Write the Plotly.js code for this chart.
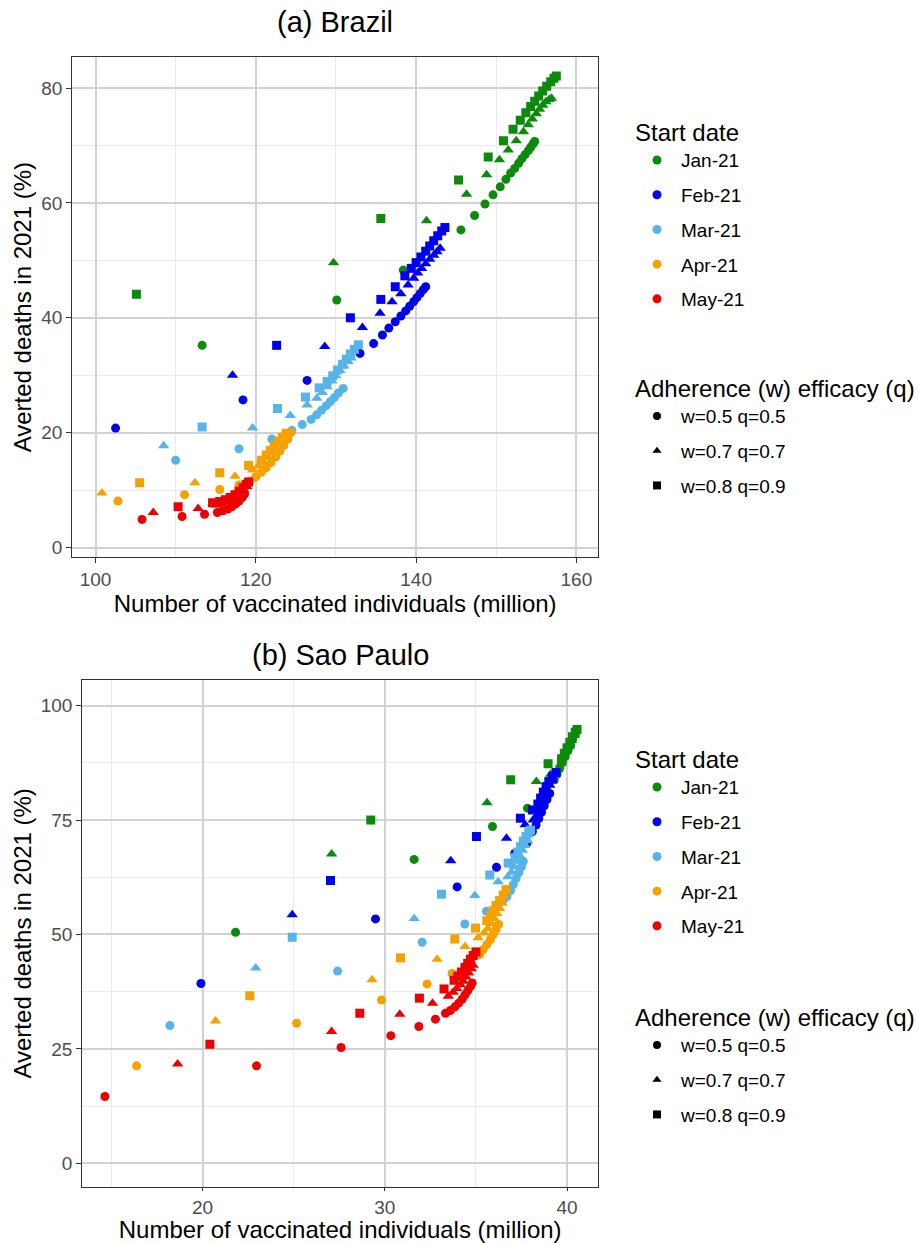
<!DOCTYPE html>
<html>
<head>
<meta charset="utf-8">
<script src="https://cdn.plot.ly/plotly-3.0.1.min.js"></script>
<style>html,body{margin:0;padding:0;background:#fff;}#chart{width:919px;height:1243px;}</style>
</head>
<body>
<div id="chart"></div>
<script>
// ---------- categories ----------
const startDates = ['Jan-21', 'Feb-21', 'Mar-21', 'Apr-21', 'May-21'];
const adherenceLabels = ['w=0.5 q=0.5', 'w=0.7 q=0.7', 'w=0.8 q=0.9'];
const panelTitles = ['(a) Brazil', '(b) Sao Paulo'];
const xTitle = 'Number of vaccinated individuals (million)';
const yTitle = 'Averted deaths in 2021 (%)';

// ---------- (a) Brazil : x = vaccinated (million), y = averted deaths (%) ----------
const br_jan_w5_x = [113.3,130.1,138.4,145.6,147.3,148.6,149.6,150.5,151.2,151.8,152.3,152.8,153.2,153.6,154.0,154.3,154.6,154.8];
const br_jan_w5_y = [35.2,43.1,48.3,55.3,57.8,59.8,61.4,62.8,64.1,65.2,66.0,66.9,67.7,68.4,69.1,69.7,70.3,70.7];
const br_jan_w7_x = [129.7,141.3,146.3,148.8,150.4,151.5,152.5,153.4,154.0,154.5,155.0,155.4,155.8,156.2,156.6,156.9];
const br_jan_w7_y = [49.6,56.9,61.5,64.9,67.5,69.2,70.8,72.4,73.6,74.6,75.5,76.3,77.0,77.6,78.0,78.2];
const br_jan_w8_x = [105.1,135.6,145.3,149.0,150.9,152.1,153.0,153.7,154.3,154.8,155.3,155.8,156.3,156.8,157.2,157.5];
const br_jan_w8_y = [44.1,57.3,64.0,68.0,70.8,72.8,74.4,75.7,76.8,77.7,78.6,79.5,80.3,81.1,81.7,82.1];

const br_feb_w5_x = [102.5,118.4,126.4,133.0,134.7,135.8,136.6,137.4,138.1,138.7,139.2,139.7,140.1,140.5,140.9,141.2];
const br_feb_w5_y = [20.8,25.7,29.1,33.8,35.5,37.0,38.2,39.3,40.3,41.2,42.0,42.8,43.5,44.2,44.9,45.4];
const br_feb_w7_x = [117.1,128.6,133.3,135.5,137.0,138.1,139.0,139.7,140.2,140.7,141.2,141.7,142.2,142.6,143.0];
const br_feb_w7_y = [30.0,35.0,38.3,40.8,42.8,44.2,45.7,46.9,47.8,48.6,49.4,50.2,50.9,51.5,52.1];
const br_feb_w8_x = [122.6,131.8,135.6,137.4,138.6,139.4,140.0,140.6,141.2,141.7,142.2,142.7,143.2,143.6];
const br_feb_w8_y = [35.2,40.0,43.2,45.4,47.3,48.6,49.6,50.6,51.6,52.5,53.4,54.3,55.1,55.7];

const br_mar_w5_x = [110.0,117.9,122.0,124.5,125.8,126.9,127.6,128.2,128.8,129.3,129.8,130.3,130.9];
const br_mar_w5_y = [15.2,17.2,18.9,20.4,21.4,22.3,23.1,23.9,24.7,25.4,26.1,26.9,27.7];
const br_mar_w7_x = [108.5,119.6,124.3,126.4,127.6,128.3,128.9,129.5,130.0,130.5,131.0,131.5,131.9];
const br_mar_w7_y = [17.7,20.8,23.0,24.8,26.0,27.0,28.0,29.0,29.9,30.8,31.6,32.4,33.0];
const br_mar_w8_x = [113.3,122.7,126.2,127.9,128.9,129.6,130.2,130.8,131.3,131.8,132.3,132.8];
const br_mar_w8_y = [21.0,24.2,26.2,27.8,28.9,29.9,30.9,31.9,32.8,33.7,34.5,35.3];

const br_apr_w5_x = [102.8,111.1,115.5,117.9,119.3,120.0,120.7,121.3,121.9,122.5,123.0,123.5,124.0,124.4];
const br_apr_w5_y = [8.1,9.2,10.1,10.9,11.6,12.3,13.1,13.9,14.8,15.8,16.8,17.8,18.9,20.0];
const br_apr_w7_x = [100.8,112.4,117.4,119.6,120.3,120.9,121.5,122.0,122.5,123.0,123.5];
const br_apr_w7_y = [9.5,11.3,12.4,13.5,14.2,14.9,15.7,16.5,17.3,18.2,19.1];
const br_apr_w8_x = [105.5,115.5,119.1,120.7,121.3,121.8,122.3,122.8,123.3,123.8];
const br_apr_w8_y = [11.3,13.0,14.3,15.2,16.1,16.9,17.7,18.5,19.2,19.9];

const br_may_w5_x = [105.8,110.8,113.6,115.2,115.9,116.5,117.0,117.5,117.9,118.3,118.6];
const br_may_w5_y = [4.9,5.4,5.8,6.1,6.4,6.7,7.1,7.6,8.1,8.7,9.3];
const br_may_w7_x = [107.2,112.8,115.1,115.8,116.4,117.0,117.5,118.0,118.5,118.9];
const br_may_w7_y = [6.1,6.8,7.4,7.6,7.9,8.3,8.8,9.4,10.0,10.6];
const br_may_w8_x = [110.3,114.6,115.5,116.2,116.8,117.4,117.9,118.4,118.8,119.1];
const br_may_w8_y = [7.1,7.8,8.0,8.3,8.7,9.2,9.8,10.4,11.0,11.4];

// ---------- (b) Sao Paulo ----------
const sp_jan_w5_x = [21.81,31.61,35.91,37.83,38.7,39.3,39.45,39.6,39.75,39.9,40.05,40.2];
const sp_jan_w5_y = [50.5,66.4,73.6,77.6,80.8,83.8,85.0,86.3,87.6,88.9,90.2,91.3];
const sp_jan_w7_x = [27.08,35.61,38.32,39.1,39.5,39.65,39.8,39.95,40.1,40.25,40.4];
const sp_jan_w7_y = [67.6,78.8,83.4,85.0,86.0,87.3,88.6,89.9,91.2,92.4,93.4];
const sp_jan_w8_x = [29.23,36.91,38.96,39.7,39.85,40.0,40.15,40.3,40.45,40.55];
const sp_jan_w8_y = [75.0,83.8,87.3,88.4,89.6,90.8,92.0,93.2,94.2,94.8];

const sp_feb_w5_x = [19.91,29.49,33.97,36.13,37.13,37.8,38.1,38.3,38.45,38.6,38.75,38.9,39.05];
const sp_feb_w5_y = [39.3,53.4,60.4,64.7,67.7,70.0,72.5,73.9,75.3,76.7,78.1,79.5,80.8];
const sp_feb_w7_x = [24.92,33.62,36.68,37.7,38.15,38.3,38.45,38.6,38.75,38.9,39.05,39.2];
const sp_feb_w7_y = [54.3,66.1,71.0,74.0,75.0,75.8,77.2,78.6,80.0,81.4,82.6,83.6];
const sp_feb_w8_x = [27.02,35.03,37.44,38.1,38.4,38.55,38.7,38.85,39.0,39.2,39.4];
const sp_feb_w8_y = [61.8,71.4,75.4,77.2,78.5,79.8,81.1,82.3,83.4,84.5,85.4];

const sp_mar_w5_x = [18.21,27.41,32.05,34.39,35.58,36.2,36.5,36.7,36.9,37.05,37.2,37.35,37.5,37.6];
const sp_mar_w5_y = [30.1,42.0,48.3,52.3,55.1,56.7,57.5,58.3,59.6,60.9,62.2,63.5,64.8,66.0];
const sp_mar_w7_x = [22.92,31.61,34.94,36.22,36.75,36.95,37.1,37.25,37.4,37.55,37.7,37.85];
const sp_mar_w7_y = [42.7,53.5,58.5,61.5,62.6,63.6,64.8,66.0,67.2,68.4,69.5,70.5];
const sp_mar_w8_x = [24.92,33.11,35.76,36.77,37.15,37.3,37.45,37.6,37.75,37.9,38.0];
const sp_mar_w8_y = [49.4,58.8,63.0,65.6,66.8,68.0,69.2,70.4,71.4,72.2,72.8];

const sp_apr_w5_x = [16.38,25.16,29.82,32.32,33.69,34.55,35.2,35.4,35.6,35.8,35.95,36.1,36.25];
const sp_apr_w5_y = [21.3,30.6,35.7,39.2,41.5,43.6,45.6,46.7,47.8,48.9,50.0,51.1,52.2];
const sp_apr_w7_x = [20.71,29.30,32.87,34.40,35.12,35.45,35.65,35.85,36.0,36.15,36.3,36.45];
const sp_apr_w7_y = [31.1,40.1,44.6,47.4,49.3,50.3,51.3,52.4,53.5,54.6,55.7,56.8];
const sp_apr_w8_x = [22.59,30.86,33.84,34.98,35.6,35.8,35.95,36.1,36.3,36.5,36.65];
const sp_apr_w8_y = [36.6,44.9,49.0,51.4,53.0,54.1,55.2,56.3,57.4,58.6,59.8];

const sp_may_w5_x = [14.64,22.96,27.6,30.33,31.87,32.78,33.33,33.6,33.85,34.05,34.25,34.4,34.55,34.7,34.8];
const sp_may_w5_y = [14.6,21.3,25.3,27.9,29.9,31.5,32.8,33.4,34.2,35.0,35.9,36.8,37.7,38.6,39.4];
const sp_may_w7_x = [18.63,27.08,30.82,32.62,33.48,33.75,33.95,34.15,34.3,34.45,34.6,34.75,34.85];
const sp_may_w7_y = [21.7,28.8,32.6,35.0,36.5,37.4,38.2,39.0,39.8,40.7,41.6,42.5,43.3];
const sp_may_w8_x = [20.40,28.63,31.90,33.25,33.8,34.0,34.2,34.4,34.55,34.7,34.85,35.0];
const sp_may_w8_y = [26.0,32.8,36.1,38.1,40.0,40.9,41.8,42.8,43.7,44.6,45.4,46.2];

// ---------- assembling (styles kept separate from data) ----------
const colors = ['#0B8A0B', '#0000F0', '#56B4E9', '#F5A200', '#EE0000'];
const symbols = ['circle', 'triangle-up', 'square'];
const symbolSizes = [9, 10, 9];

const brazil = [
  [[br_jan_w5_x, br_jan_w5_y], [br_jan_w7_x, br_jan_w7_y], [br_jan_w8_x, br_jan_w8_y]],
  [[br_feb_w5_x, br_feb_w5_y], [br_feb_w7_x, br_feb_w7_y], [br_feb_w8_x, br_feb_w8_y]],
  [[br_mar_w5_x, br_mar_w5_y], [br_mar_w7_x, br_mar_w7_y], [br_mar_w8_x, br_mar_w8_y]],
  [[br_apr_w5_x, br_apr_w5_y], [br_apr_w7_x, br_apr_w7_y], [br_apr_w8_x, br_apr_w8_y]],
  [[br_may_w5_x, br_may_w5_y], [br_may_w7_x, br_may_w7_y], [br_may_w8_x, br_may_w8_y]]
];
const saopaulo = [
  [[sp_jan_w5_x, sp_jan_w5_y], [sp_jan_w7_x, sp_jan_w7_y], [sp_jan_w8_x, sp_jan_w8_y]],
  [[sp_feb_w5_x, sp_feb_w5_y], [sp_feb_w7_x, sp_feb_w7_y], [sp_feb_w8_x, sp_feb_w8_y]],
  [[sp_mar_w5_x, sp_mar_w5_y], [sp_mar_w7_x, sp_mar_w7_y], [sp_mar_w8_x, sp_mar_w8_y]],
  [[sp_apr_w5_x, sp_apr_w5_y], [sp_apr_w7_x, sp_apr_w7_y], [sp_apr_w8_x, sp_apr_w8_y]],
  [[sp_may_w5_x, sp_may_w5_y], [sp_may_w7_x, sp_may_w7_y], [sp_may_w8_x, sp_may_w8_y]]
];

const traces = [];
function addPanel(panel, xa, ya) {
  panel.forEach((byShape, ci) => {
    byShape.forEach((xy, si) => {
      traces.push({
        type: 'scatter', mode: 'markers', x: xy[0], y: xy[1], xaxis: xa, yaxis: ya,
        name: startDates[ci] + ' ' + adherenceLabels[si], showlegend: false, hoverinfo: 'x+y+name',
        marker: { color: colors[ci], symbol: symbols[si], size: symbolSizes[si], line: { width: 0 } }
      });
    });
  });
}
addPanel(brazil, 'x', 'y');
addPanel(saopaulo, 'x2', 'y2');

// legend entries
function addLegends(colorLegend, shapeLegend, tag) {
  startDates.forEach((d, ci) => {
    traces.push({ type: 'scatter', mode: 'markers', x: [null], y: [null], name: d, legend: colorLegend,
      legendgroup: tag + 'c' + ci, showlegend: true,
      marker: { color: colors[ci], symbol: 'circle', size: 9, line: { width: 0 } } });
  });
  adherenceLabels.forEach((a, si) => {
    traces.push({ type: 'scatter', mode: 'markers', x: [null], y: [null], name: a, legend: shapeLegend,
      legendgroup: tag + 's' + si, showlegend: true,
      marker: { color: '#000', symbol: symbols[si], size: 8, line: { width: 0 } } });
  });
}
addLegends('legend', 'legend2', 'a');
addLegends('legend3', 'legend4', 'b');

const W = 919, H = 1243;
const FONT = 'Liberation Sans, Arial, Helvetica, sans-serif';
const gridMajor = '#D2D2D2', gridMinor = '#EBEBEB';

function axisBase(extra) {
  return Object.assign({
    showgrid: true, gridcolor: gridMajor, gridwidth: 1.6,
    zeroline: false, showline: true, mirror: true, linecolor: '#333', linewidth: 1.3,
    ticks: 'outside', ticklen: 5, tickwidth: 1.3, tickcolor: '#333',
    tickfont: { size: 19, color: '#4D4D4D', family: FONT },
    fixedrange: true
  }, extra);
}

function legendBase(title, yTopPx) {
  return {
    title: { text: title, font: { size: 24, color: '#000', family: FONT } },
    font: { size: 19, color: '#000', family: FONT },
    x: 633 / W, xanchor: 'left', y: 1 - yTopPx / H, yanchor: 'top',
    bgcolor: 'rgba(0,0,0,0)', borderwidth: 0, traceorder: 'grouped', tracegroupgap: 7,
    itemwidth: 38, itemclick: false, itemdoubleclick: false
  };
}

const layout = {
  width: W, height: H, margin: { l: 0, r: 0, t: 0, b: 0 },
  paper_bgcolor: '#fff', plot_bgcolor: '#fff',
  font: { family: FONT, color: '#000' },
  showlegend: true,
  xaxis: axisBase({ domain: [72.3 / W, 598 / W], range: [97.1, 162.7], anchor: 'y', tick0: 0, dtick: 20,
    minor: { dtick: 10, tick0: 0, showgrid: true, gridcolor: gridMinor, gridwidth: 1.2, ticks: '' },
    title: { text: xTitle, font: { size: 24, color: '#000', family: FONT }, standoff: 4 } }),
  yaxis: axisBase({ domain: [1 - 557.3 / H, 1 - 57 / H], range: [-1.7, 85.4], anchor: 'x', tick0: 0, dtick: 20,
    minor: { dtick: 10, tick0: 0, showgrid: true, gridcolor: gridMinor, gridwidth: 1.2, ticks: '' },
    title: { text: yTitle, font: { size: 24, color: '#000', family: FONT }, standoff: 2 } }),
  xaxis2: axisBase({ domain: [82.3 / W, 598 / W], range: [13.4, 41.7], anchor: 'y2', tick0: 0, dtick: 10,
    ticklen: 3,
    minor: { dtick: 5, tick0: 0, showgrid: true, gridcolor: gridMinor, gridwidth: 1.2, ticks: '' },
    title: { text: xTitle, font: { size: 24, color: '#000', family: FONT }, standoff: 0 } }),
  yaxis2: axisBase({ domain: [1 - 1186.7 / H, 1 - 680 / H], range: [-5.1, 105.6], anchor: 'x2', tick0: 0, dtick: 25,
    minor: { dtick: 12.5, tick0: 0, showgrid: true, gridcolor: gridMinor, gridwidth: 1.2, ticks: '' },
    title: { text: yTitle, font: { size: 24, color: '#000', family: FONT }, standoff: 2 } }),
  legend: legendBase('Start date', 110),
  legend2: legendBase('Adherence (w) efficacy (q)', 366),
  legend3: legendBase('Start date', 737),
  legend4: legendBase('Adherence (w) efficacy (q)', 995),
  annotations: [
    { text: panelTitles[0], xref: 'x domain', yref: 'paper', x: 0.5, y: 1 - 22 / H, xanchor: 'center', yanchor: 'middle',
      showarrow: false, font: { size: 29, color: '#000', family: FONT } },
    { text: panelTitles[1], xref: 'x2 domain', yref: 'paper', x: 0.5, y: 1 - 655 / H, xanchor: 'center', yanchor: 'middle',
      showarrow: false, font: { size: 29, color: '#000', family: FONT } }
  ]
};

Plotly.newPlot('chart', traces, layout, { displayModeBar: false, staticPlot: false, responsive: false });
</script>
</body>
</html>
